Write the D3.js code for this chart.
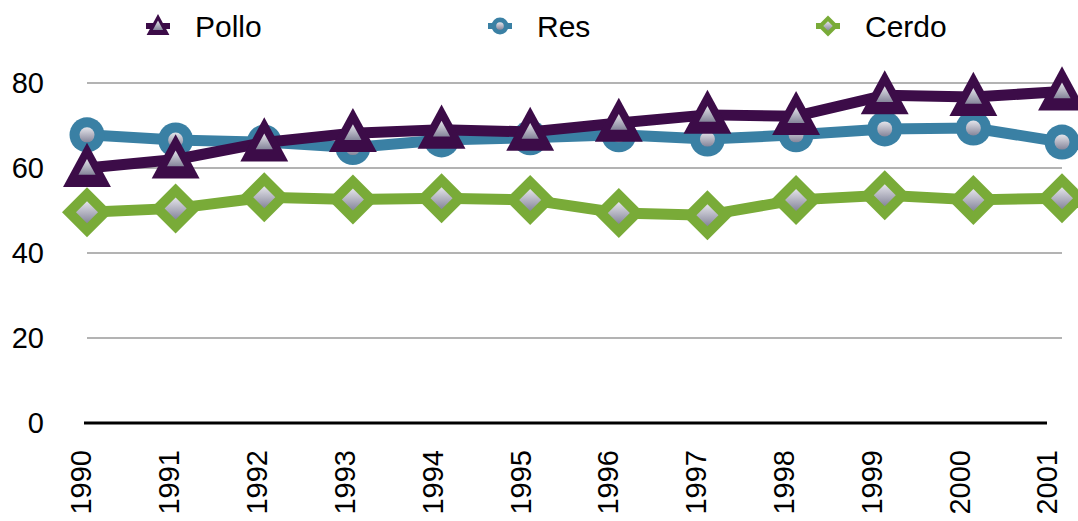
<!DOCTYPE html>
<html>
<head>
<meta charset="utf-8">
<script src="https://cdn.jsdelivr.net/npm/d3@7"></script>
<style>
  body { margin: 0; background: #fff; }
  text { font-family: "Liberation Sans", Arial, Helvetica, sans-serif; fill: #000; }
</style>
</head>
<body>
<script>
const width = 1078;
const height = 521;

// data
const years = ["1990", "1991", "1992", "1993", "1994", "1995", "1996", "1997", "1998", "1999", "2000", "2001"];
const pollo = [60.0, 62.0, 66.0, 68.2, 69.0, 68.5, 70.6, 72.5, 72.2, 77.1, 76.7, 78.0];
const res = [67.8, 66.6, 66.1, 64.8, 66.6, 67.1, 67.8, 66.8, 67.8, 69.2, 69.4, 66.1];
const cerdo = [49.6, 50.5, 53.1, 52.6, 52.9, 52.5, 49.4, 48.9, 52.5, 53.6, 52.5, 52.9];
const yTicks = [0, 20, 40, 60, 80];

const series = [
    { name: "Cerdo", values: cerdo, color: "#79ab38", shape: "diamond" },
    { name: "Res", values: res, color: "#3a80a4", shape: "circle" },
    { name: "Pollo", values: pollo, color: "#3c0c48", shape: "triangle" }
];
const legendOrder = ["Pollo", "Res", "Cerdo"];

const svg = d3.select('body').append('svg')
    .attr("width", width)
    .attr("height", height);

const defs = svg.append("defs");
const grad = defs.append("linearGradient")
    .attr("id", "gray")
    .attr("x1", 0).attr("y1", 0).attr("x2", 0).attr("y2", 1);
grad.append("stop").attr("offset", "0%").attr("stop-color", "#e4e4ea");
grad.append("stop").attr("offset", "100%").attr("stop-color", "#85859a");

const x = d3.scalePoint().domain(years).range([87, 1062]);
const xLabel = d3.scalePoint().domain(years).range([81, 1047]);
const y = d3.scaleLinear().domain([0, 80]).range([423, 83]);

// gridlines
svg.append("g")
    .selectAll("line")
    .data(yTicks.filter(d => d > 0))
    .enter()
    .append("line")
    .attr("x1", 87)
    .attr("x2", 1062)
    .attr("y1", d => y(d))
    .attr("y2", d => y(d))
    .style("stroke", "#b3b3b3")
    .style("stroke-width", 2);

// baseline
svg.append("line")
    .attr("x1", 84).attr("x2", 1047)
    .attr("y1", y(0)).attr("y2", y(0))
    .style("stroke", "#000")
    .style("stroke-width", 3);

// y labels
svg.append("g")
    .selectAll("text")
    .data(yTicks)
    .enter()
    .append("text")
    .attr("x", 44)
    .attr("y", d => y(d))
    .attr("dy", "0.36em")
    .attr("text-anchor", "end")
    .style("font-size", "29px")
    .text(d => d);

// x labels
svg.append("g")
    .selectAll("text")
    .data(years)
    .enter()
    .append("text")
    .attr("transform", d => `translate(${xLabel(d)},450) rotate(-90)`)
    .attr("dy", "0.36em")
    .attr("text-anchor", "end")
    .style("font-size", "29px")
    .text(d => d);

function shapePath(shape, s) {
    if (shape === "triangle") {
        return `M0,${-s * 0.6}L${s * 0.57},${s * 0.45}L${-s * 0.57},${s * 0.45}Z`;
    } else if (shape === "diamond") {
        return `M0,${-s * 0.5}L${s * 0.5},0L0,${s * 0.5}L${-s * 0.5},0Z`;
    }
    return d3.symbol().type(d3.symbolCircle).size(Math.PI * s * s / 4)();
}

const outerSize = { triangle: 42, circle: 35, diamond: 50 };
const innerSize = { triangle: 15, circle: 15, diamond: 22 };

const line = d3.line()
    .x((d, i) => x(years[i]))
    .y(d => y(d));

series.forEach(s => {
    const g = svg.append("g");
    g.append("path")
        .attr("d", line(s.values))
        .style("fill", "none")
        .style("stroke", s.color)
        .style("stroke-width", 11)
        .style("stroke-linejoin", "round");

    const pts = g.selectAll("g.pt")
        .data(s.values)
        .enter()
        .append("g")
        .attr("transform", (d, i) => `translate(${x(years[i])},${y(d)})`);
    pts.append("path")
        .attr("d", shapePath(s.shape, outerSize[s.shape]))
        .style("fill", s.color);
    pts.append("path")
        .attr("d", shapePath(s.shape, innerSize[s.shape]))
        .style("fill", "url(#gray)");
});

// legend
const legendX = { Pollo: 158, Res: 500, Cerdo: 828 };
legendOrder.forEach(name => {
    const s = series.find(d => d.name === name);
    const g = svg.append("g").attr("transform", `translate(${legendX[name]},26)`);
    g.append("line")
        .attr("x1", -12).attr("x2", 12)
        .style("stroke", s.color)
        .style("stroke-width", 6);
    const sz = { triangle: 20, circle: 17, diamond: 21 }[s.shape];
    g.append("path")
        .attr("d", shapePath(s.shape, sz))
        .style("fill", s.color);
    g.append("path")
        .attr("d", shapePath(s.shape, sz * 0.45))
        .style("fill", "url(#gray)");
    svg.append("text")
        .attr("x", legendX[name] + 37)
        .attr("y", 37)
        .style("font-size", "30px")
        .text(name);
});
</script>
</body>
</html>
